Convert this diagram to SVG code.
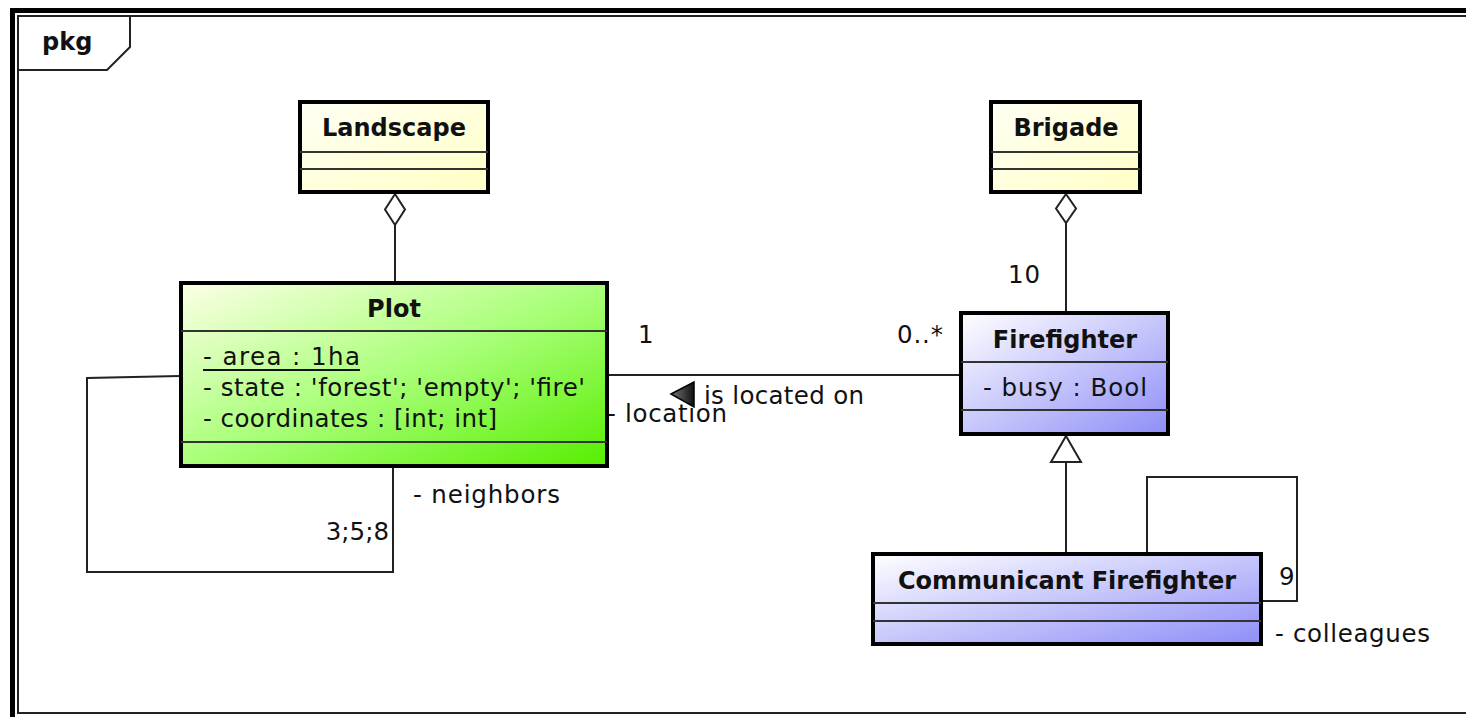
<svg xmlns="http://www.w3.org/2000/svg" width="1466" height="717" viewBox="0 0 1466 717">
<defs>
<linearGradient id="gYellow" x1="0" y1="0" x2="1" y2="1"><stop offset="0" stop-color="#fffff4"/><stop offset="1" stop-color="#ffffc6"/></linearGradient>
<linearGradient id="gGreen" x1="0" y1="0" x2="1" y2="1"><stop offset="0" stop-color="#fcffe6"/><stop offset="0.5" stop-color="#aaff7a"/><stop offset="1" stop-color="#57ee00"/></linearGradient>
<linearGradient id="gBlue" x1="0" y1="0" x2="1" y2="1"><stop offset="0" stop-color="#ffffff"/><stop offset="1" stop-color="#8e8ef8"/></linearGradient>
<linearGradient id="gArrow" x1="0" y1="0" x2="1" y2="0"><stop offset="0" stop-color="#777"/><stop offset="1" stop-color="#111"/></linearGradient>
<style>
text{font-family:"DejaVu Sans","Liberation Sans",sans-serif;font-size:24.5px;fill:#111}
.b{font-weight:bold;font-size:24px}
.c{text-anchor:middle}
.box{stroke:#000;stroke-width:4}
.div{stroke:#333;stroke-width:2}
.ln{fill:none;stroke:#222;stroke-width:2}
</style>
</defs>
<rect width="1466" height="717" fill="#fff"/>
<g id="frame">
<path d="M12.5,717 V10.5 H1466" fill="none" stroke="#000" stroke-width="5"/>
<path d="M1466,16 H18 V713 H1466" fill="none" stroke="#222" stroke-width="2"/>
<path d="M18,70 H107 L130,47 V16" fill="none" stroke="#222" stroke-width="2"/>
<text class="b" x="42" y="50">pkg</text>
</g>
<g id="connectors">
<line class="ln" x1="395" y1="225" x2="395" y2="283"/>
<path d="M395,194 L405,209.5 L395,225 L385,209.5 Z" fill="#fff" stroke="#222" stroke-width="2"/>
<line class="ln" x1="1066" y1="223" x2="1066" y2="312"/>
<path d="M1066,194 L1076,208.5 L1066,223 L1056,208.5 Z" fill="#fff" stroke="#222" stroke-width="2"/>
<line class="ln" x1="608" y1="375" x2="960" y2="375"/>
<line class="ln" x1="1066" y1="462" x2="1066" y2="553"/>
<path d="M1066,436 L1081,462 L1051,462 Z" fill="#fff" stroke="#222" stroke-width="2"/>
<path class="ln" d="M180,376 L87,378 V572 H393 V467"/>
<path class="ln" d="M1147,553 V477 H1297 V601 H1262"/>
<path d="M671,394 L694,382 L694,407 Z" fill="url(#gArrow)" stroke="#000" stroke-width="1.5" stroke-linejoin="miter"/>
<text x="638" y="343">1</text>
<text x="897" y="343" textLength="46">0..*</text>
<text x="704" y="404" textLength="160">is located on</text>
<text x="607" y="422" textLength="120">- location</text>
<text x="413" y="503" textLength="147">- neighbors</text>
<text x="389" y="540" text-anchor="end">3;5;8</text>
<text x="1008" y="283" textLength="32">10</text>
<text x="1279" y="585">9</text>
<text x="1275" y="642" textLength="155">- colleagues</text>
</g>
<g id="landscape">
<rect class="box" x="300" y="102" width="188" height="90" fill="url(#gYellow)"/>
<line class="div" x1="300" y1="152" x2="488" y2="152"/>
<line class="div" x1="300" y1="169" x2="488" y2="169"/>
<text class="b c" x="394" y="136">Landscape</text>
</g>
<g id="brigade">
<rect class="box" x="991" y="102" width="149" height="90" fill="url(#gYellow)"/>
<line class="div" x1="991" y1="152" x2="1140" y2="152"/>
<line class="div" x1="991" y1="169" x2="1140" y2="169"/>
<text class="b c" x="1066" y="136">Brigade</text>
</g>
<g id="plot">
<rect class="box" x="181" y="283" width="426" height="183" fill="url(#gGreen)"/>
<line class="div" x1="181" y1="331" x2="607" y2="331"/>
<line class="div" x1="181" y1="442" x2="607" y2="442"/>
<text class="b c" x="394" y="317">Plot</text>
<text x="203" y="365" textLength="157">- area : 1ha</text>
<line x1="203" y1="370" x2="360" y2="370" stroke="#111" stroke-width="2"/>
<text x="203" y="396" textLength="382">- state : 'forest'; 'empty'; 'fire'</text>
<text x="203" y="427" textLength="294">- coordinates : [int; int]</text>
</g>
<g id="firefighter">
<rect class="box" x="961" y="313" width="207" height="121" fill="url(#gBlue)"/>
<line class="div" x1="961" y1="362" x2="1168" y2="362"/>
<line class="div" x1="961" y1="410" x2="1168" y2="410"/>
<text class="b c" x="1065" y="348">Firefighter</text>
<text x="983" y="396" textLength="164">- busy : Bool</text>
</g>
<g id="communicant">
<rect class="box" x="873" y="554" width="388" height="90" fill="url(#gBlue)"/>
<line class="div" x1="873" y1="603" x2="1261" y2="603"/>
<line class="div" x1="873" y1="621" x2="1261" y2="621"/>
<text class="b c" x="1067" y="589">Communicant Firefighter</text>
</g>
</svg>
